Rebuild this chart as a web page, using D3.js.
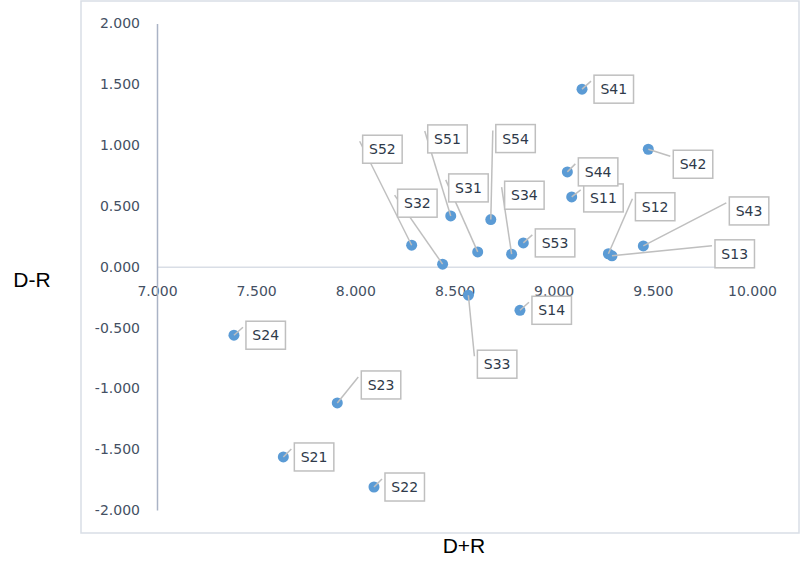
<!DOCTYPE html>
<html>
<head>
<meta charset="utf-8">
<script src="https://cdn.jsdelivr.net/npm/d3@7"></script>
<style>
  body { margin: 0; background: #fff; }
  svg { display: block; }
</style>
</head>
<body>
<div id="chart"></div>
<script>
// data
const names = ["S11", "S12", "S13", "S14", "S21", "S22", "S23", "S24", "S31", "S32",
    "S33", "S34", "S41", "S42", "S43", "S44", "S51", "S52", "S53", "S54"];
const dPlusR = [9.091, 9.276, 9.294, 8.830, 7.637, 8.094, 7.909, 7.388, 8.617, 8.440,
    8.570, 8.788, 9.143, 9.477, 9.452, 9.069, 8.481, 8.284, 8.847, 8.683];
const dMinusR = [0.574, 0.107, 0.090, -0.358, -1.564, -1.811, -1.120, -0.563, 0.122, 0.021,
    -0.234, 0.103, 1.460, 0.966, 0.171, 0.780, 0.418, 0.177, 0.196, 0.388];
const xTicks = [7, 7.5, 8, 8.5, 9, 9.5, 10];
const yTicks = [-2, -1.5, -1, -0.5, 0, 0.5, 1, 1.5, 2];

// where each label box was dragged to (px from its point, box top-left)
const labelShift = [[12, -13], [27, -61], [103, -16], [12, -14], [11, -14], [11, -14], [24, -32],
    [12, -14], [-29, -78], [-45, -75], [9, 55], [-7, -73], [12, -14], [25, 1], [86, -49],
    [11, -14], [-23, -91], [-49, -110], [12, -14], [5, -95]];

const width = 800, height = 564;
const svg = d3.select("#chart").append("svg")
    .attr("width", width)
    .attr("height", height);

// plot area frame
svg.append("rect")
    .attr("x", 81).attr("y", 1)
    .attr("width", 718).attr("height", 532)
    .attr("fill", "none")
    .attr("stroke", "#d9dee6")
    .attr("stroke-width", 1.5);

const x = d3.scaleLinear().domain([7, 10]).range([157, 752]);
const y = d3.scaleLinear().domain([-2, 2]).range([510, 23.5]);

// plain hyphen for negatives, like the original
const fmt = d => d3.format(".3f")(d).replace("\u2212", "-");
const tickFont = "'DejaVu Sans', sans-serif";

// x axis sits on y = 0
const gx = svg.append("g")
    .attr("transform", `translate(0,${y(0)})`)
    .call(d3.axisBottom(x).tickValues(xTicks).tickFormat(fmt).tickSize(0).tickSizeOuter(0).tickPadding(19.5));
gx.select(".domain").attr("stroke", "#d9dee6").attr("stroke-width", 1.5);

const gy = svg.append("g")
    .attr("transform", `translate(${x(7)},0)`)
    .call(d3.axisLeft(y).tickValues(yTicks).tickFormat(fmt).tickSize(0).tickSizeOuter(0).tickPadding(17));
gy.select(".domain").attr("stroke", "#aab3c5").attr("stroke-width", 1.5);

svg.selectAll(".tick text")
    .attr("fill", "#445063")
    .style("font-family", tickFont)
    .style("font-size", "14px");

// axis titles
svg.append("text")
    .attr("x", 32).attr("y", 287)
    .attr("text-anchor", "middle")
    .style("font-family", "'Liberation Sans', Arial, sans-serif")
    .style("font-size", "21px")
    .attr("fill", "#000")
    .text("D-R");

svg.append("text")
    .attr("x", 464).attr("y", 553)
    .attr("text-anchor", "middle")
    .style("font-family", "'Liberation Sans', Arial, sans-serif")
    .style("font-size", "21px")
    .attr("fill", "#000")
    .text("D+R");

const points = names.map((n, i) => ({
    name: n,
    px: x(dPlusR[i]),
    py: y(dMinusR[i]),
    bx: x(dPlusR[i]) + labelShift[i][0],
    by: y(dMinusR[i]) + labelShift[i][1]
}));

// markers
svg.append("g").selectAll("circle")
    .data(points)
    .enter().append("circle")
    .attr("cx", d => d.px)
    .attr("cy", d => d.py)
    .attr("r", 5.5)
    .attr("fill", "#5b9bd5");

// leader lines
svg.append("g").selectAll("line")
    .data(points)
    .enter().append("line")
    .attr("x1", d => d.px)
    .attr("y1", d => d.py)
    .attr("x2", d => d.bx - 3)
    .attr("y2", d => d.by + 6)
    .attr("stroke", "#bfbfbf")
    .attr("stroke-width", 1.5);

// label boxes
const boxW = 39.5, boxH = 28;
const lab = svg.append("g").selectAll("g")
    .data(points)
    .enter().append("g")
    .attr("transform", d => `translate(${d.bx},${d.by})`);

lab.append("rect")
    .attr("width", boxW)
    .attr("height", boxH)
    .attr("fill", "#fff")
    .attr("stroke", "#bfbfbf")
    .attr("stroke-width", 1.5);

lab.append("text")
    .attr("x", boxW / 2)
    .attr("y", boxH / 2 + 5)
    .attr("text-anchor", "middle")
    .style("font-family", tickFont)
    .style("font-size", "14px")
    .attr("fill", "#2f3a4a")
    .text(d => d.name);
</script>
</body>
</html>
